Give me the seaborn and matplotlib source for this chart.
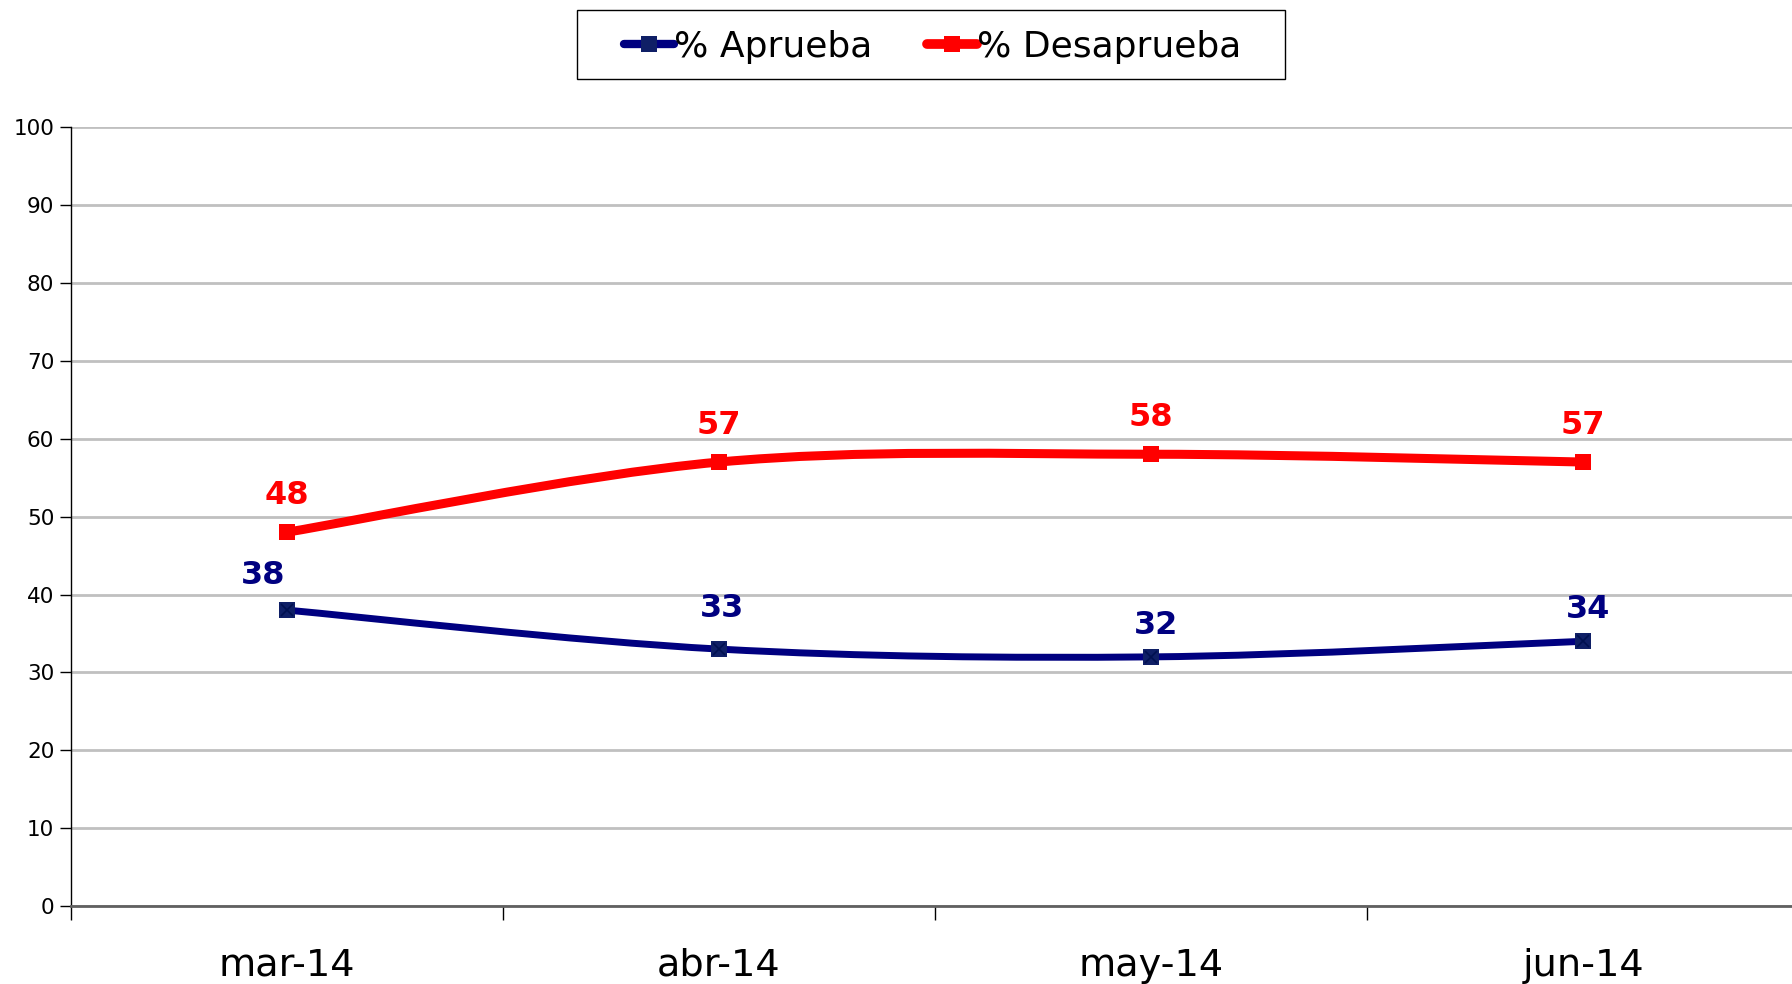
import numpy as np
import pandas as pd
import matplotlib.pyplot as plt
from matplotlib.path import Path
from matplotlib.patches import PathPatch, Rectangle
from matplotlib.lines import Line2D
import seaborn as sns

months = ['mar-14', 'abr-14', 'may-14', 'jun-14']
aprueba = [38, 33, 32, 34]
desaprueba = [48, 57, 58, 57]

navy = '#000080'
red = '#FF0000'

df = pd.DataFrame({
    'pos': list(range(len(months))) * 2,
    'value': aprueba + desaprueba,
    'serie': ['% Aprueba'] * len(months) + ['% Desaprueba'] * len(months),
})

sns.set_theme(style="white")
plt.rcParams['font.family'] = ['DejaVu Sans']
plt.rcParams['text.color'] = 'black'

fig = plt.figure(figsize=(17.92, 9.84), dpi=100)
ax = fig.add_axes([0.0396, 0.079, 0.9644, 0.792])

ax.set_ylim(0, 100)
ax.set_xlim(-0.5, 3.5)
ax.set_yticks(range(0, 101, 10))
ax.yaxis.grid(True, color='#C0C0C0', linewidth=2)
ax.set_axisbelow(True)


def smooth_path(xs, ys):
    # excel style smoothed line as cubic bezier segments
    pts = np.column_stack([xs, ys]).astype(float)
    n = len(pts)
    verts = [pts[0]]
    codes = [Path.MOVETO]
    for i in range(n - 1):
        p0 = pts[i - 1] if i > 0 else pts[i]
        p1 = pts[i]
        p2 = pts[i + 1]
        p3 = pts[i + 2] if i + 2 < n else pts[i + 1]
        c1 = p1 + (p2 - p0) / 6.0
        c2 = p2 - (p3 - p1) / 6.0
        verts += [c1, c2, p2]
        codes += [Path.CURVE4] * 3
    return Path(verts, codes)


x = list(range(len(months)))
ax.add_patch(PathPatch(smooth_path(x, desaprueba), fill=False, edgecolor=red,
                       linewidth=6.5, capstyle='round', zorder=3))
ax.add_patch(PathPatch(smooth_path(x, aprueba), fill=False, edgecolor=navy,
                       linewidth=5, capstyle='round', zorder=3))

sns.lineplot(data=df, x='pos', y='value', hue='serie',
             palette={'% Aprueba': '#0F1F66', '% Desaprueba': red},
             marker='s', markersize=11, linewidth=0, markeredgewidth=0,
             legend=False, ax=ax, zorder=4)
ax.plot(x, aprueba, linestyle='', marker='x', markersize=8, color='#001050',
        markeredgewidth=1.2, zorder=5)

# data labels
red_off = [(0, 37), (0, 37), (0, 37), (0, 37)]
blue_off = [(-24, 35), (3, 41), (5, 31), (5, 32)]
for i, v in enumerate(desaprueba):
    ax.annotate(str(v), (i, v), xytext=red_off[i], textcoords='offset pixels',
                ha='center', va='center', fontsize=23, fontweight='bold', color=red)
for i, v in enumerate(aprueba):
    ax.annotate(str(v), (i, v), xytext=blue_off[i], textcoords='offset pixels',
                ha='center', va='center', fontsize=23, fontweight='bold', color=navy)

ax.set_xticks(x)
ax.set_xticklabels(months)
ax.set_xticks([-0.5, 0.5, 1.5, 2.5, 3.5], minor=True)
ax.tick_params(axis='x', which='major', length=0, labelsize=27.5, pad=30,
               labelcolor='black')
ax.tick_params(axis='x', which='minor', bottom=True, length=10, width=1,
               color='black', direction='out')
ax.tick_params(axis='y', which='major', length=8, width=1, color='black',
               direction='out', labelsize=15.5, pad=4, left=True, labelcolor='black')
ax.set_xlabel('')
ax.set_ylabel('')

for s in ['top', 'right']:
    ax.spines[s].set_visible(False)
ax.spines['left'].set_color('black')
ax.spines['left'].set_linewidth(1)
ax.spines['bottom'].set_color('#606060')
ax.spines['bottom'].set_linewidth(2)

handles = [
    Line2D([], [], color=navy, linewidth=6, marker='s', markersize=11,
           markerfacecolor='#0F1F66', markeredgewidth=0, solid_capstyle='round'),
    Line2D([], [], color=red, linewidth=7, marker='s', markersize=11,
           markerfacecolor=red, markeredgewidth=0, solid_capstyle='round'),
]
leg = fig.legend(handles, ['% Aprueba', '% Desaprueba'], loc='center',
                 bbox_to_anchor=(0.5205, 0.9525), ncol=2, fontsize=26,
                 frameon=False, handlelength=1.4, handletextpad=0.0,
                 columnspacing=1.5, borderaxespad=0)

# legend box drawn wider than the entries, like the original
fig.patches.append(Rectangle((577 / 1792, 1 - 79 / 984), 708 / 1792, 69 / 984,
                             transform=fig.transFigure, fill=False,
                             edgecolor='black', linewidth=1))

fig.savefig('out.png', dpi=100)
